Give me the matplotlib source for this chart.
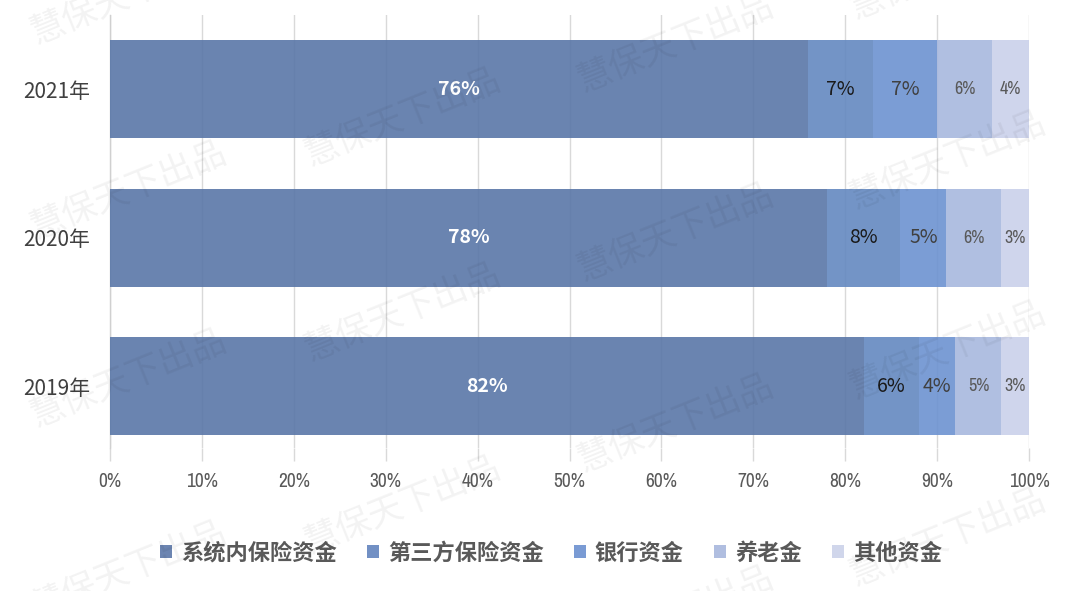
import matplotlib
matplotlib.use("Agg")
import matplotlib.pyplot as plt
from matplotlib.patches import Patch
import numpy as np

plt.rcParams['font.family'] = ['Noto Sans CJK SC', 'DejaVu Sans']

# ---- data ----
years = ["2021年", "2020年", "2019年"]
series_names = ["系统内保险资金", "第三方保险资金", "银行资金", "养老金", "其他资金"]
internal_ins = [76, 78, 82]
third_party_ins = [7, 8, 6]
bank = [7, 5, 4]
pension = [6, 6, 5]
other = [4, 3, 3]
x_ticks = [0, 10, 20, 30, 40, 50, 60, 70, 80, 90, 100]
x_tick_labels = ["0%", "10%", "20%", "30%", "40%", "50%", "60%", "70%", "80%", "90%", "100%"]

series = [internal_ins, third_party_ins, bank, pension, other]
colors = ["#5a77a8", "#6488c0", "#6d92d1", "#a8b8de", "#cad1ea"]
legend_colors = ["#6c85b1", "#7290c4", "#7a9bd4", "#b0bee0", "#d0d6eb"]
NARROW = ['Archivo Narrow', 'DejaVu Sans']
CJK = ['Noto Sans CJK SC', 'DejaVu Sans']
label_styles = [
    dict(color="white", fontweight="bold", fontsize=14, family=CJK),
    dict(color="#1a1a1a", fontsize=14, family=CJK),
    dict(color="#404040", fontsize=14, family=CJK),
    dict(color="#595959", fontsize=13, family=NARROW),
    dict(color="#595959", fontsize=13, family=NARROW),
]

W, H = 1080, 591
fig = plt.figure(figsize=(W / 100, H / 100), dpi=100)
ax_left, ax_right, ax_top, ax_bottom = 110, 1029, 15, 448
ax = fig.add_axes([ax_left / W, 1 - ax_bottom / H, (ax_right - ax_left) / W, (ax_bottom - ax_top) / H])

y = np.arange(len(years))
left = np.zeros(len(years))
for vals, col, style in zip(series, colors, label_styles):
    vals = np.array(vals, dtype=float)
    ax.barh(y, vals, left=left, height=0.663, color=col, alpha=0.9, zorder=2, linewidth=0)
    for yi, l, v in zip(y, left, vals):
        ax.text(l + v / 2, yi, f"{int(v)}%", ha="center", va="center", zorder=4, **style)
    left += vals

ax.set_xlim(0, 100)
ax.set_ylim(2.416, -0.5)
ax.set_xticks(x_ticks)
ax.set_xticklabels(x_tick_labels, family=NARROW, fontsize=14, color="#595959")
ax.set_yticks(y)
ax.set_yticklabels(years, fontsize=15, color="#404040")
ax.tick_params(axis="y", length=0, pad=14)
ax.tick_params(axis="x", length=9, width=1, color="#d9d9d9", pad=8)
ax.xaxis.grid(True, color="#d9d9d9", linewidth=1, zorder=1)
ax.set_axisbelow(True)
for s in ["top", "right", "bottom"]:
    ax.spines[s].set_visible(False)
ax.spines["left"].set_color("#d0d0d0")
ax.spines["left"].set_linewidth(1)
ax.spines["left"].set_zorder(1)

# legend
handles = [Patch(facecolor=c, edgecolor="none") for c in legend_colors]
fig.legend(handles, series_names, loc="center", bbox_to_anchor=(0.51, 1 - 553 / H),
           ncol=5, frameon=False, handlelength=0.55, handleheight=0.55,
           handletextpad=0.4, columnspacing=1.35,
           prop=dict(family=CJK, weight="bold", size=16),
           labelcolor="#595959")

# watermark tiling
wm_cols = {
    129: [-5, 190, 378, 570],
    403: [-73, 117, 312, 505],
    676: [43, 232, 423, 615],
    948: [-30, 160, 350, 537],
}
for cx, ys in wm_cols.items():
    for cy in ys:
        fig.text(cx / W, 1 - cy / H, "慧保天下出品", rotation=22, rotation_mode="anchor",
                 ha="center", va="center", fontsize=25, color="black", alpha=0.05,
                 zorder=10)

fig.savefig("out.png", dpi=100)
